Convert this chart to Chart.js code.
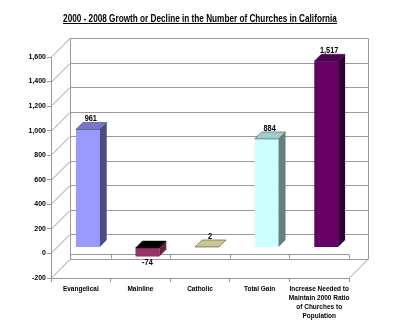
<!DOCTYPE html>
<html>
<head>
<meta charset="utf-8">
<script src="https://cdn.jsdelivr.net/npm/chart.js@4.4.1/dist/chart.umd.min.js"></script>
<style>
  html, body { margin: 0; padding: 0; background: #fff; }
  #wrap { width: 400px; height: 331px; }
</style>
</head>
<body>
<div id="wrap"><canvas id="churchChart" width="400" height="331"></canvas></div>
<script>
// Chart data
const titleText = "2000 - 2008 Growth or Decline in the Number of Churches in California";
const categories = [
    "Evangelical",
    "Mainline",
    "Catholic",
    "Total Gain",
    ["Increase Needed to", "Maintain 2000 Ratio", "of Churches to", "Population"]
];
const changes = [961, -74, 2, 884, 1517];
const valueLabels = ["961", "-74", "2", "884", "1,517"];
const yTicks = [-200, 0, 200, 400, 600, 800, 1000, 1200, 1400, 1600];

// colours of the faces (front / top / side)
const frontColors = ['#9999FF', '#993366', '#CCCC99', '#CCFFFF', '#660066'];
const topColors = ['#7676CC', '#000000', '#C8C896', '#A3CCCC', '#520052'];
const sideColors = ['#4D4D80', '#66223F', '#8A8A66', '#668080', '#330033'];

const FONT = "'Liberation Sans', Arial, sans-serif";
const NARROW = 0.82;  // the original text is a narrow face
const WALL = 19;   // depth of the walls
const SHIFT_X = 7, SHIFT_Y = -6;  // bars sit a bit behind the front plane
const DEPTH = 7;   // depth of a bar

function narrowText(ctx, text, x, y) {
    ctx.save();
    ctx.translate(x, y);
    ctx.scale(NARROW, 1);
    ctx.fillText(text, 0, 0);
    ctx.restore();
}

const threeD = {
    id: 'threeD',
    beforeDatasetsDraw(chart) {
        const ctx = chart.ctx, a = chart.chartArea;
        const ys = chart.scales.y;
        ctx.save();
        ctx.strokeStyle = '#999999';
        ctx.lineWidth = 1;
        ctx.beginPath();
        yTicks.forEach(v => {
            const py = Math.round(ys.getPixelForValue(v)) + 0.5;
            ctx.moveTo(a.left, py);
            ctx.lineTo(a.left + WALL, py - WALL);
            ctx.lineTo(a.right + WALL, py - WALL);
        });
        const top = Math.round(ys.getPixelForValue(1600)) + 0.5;
        const bot = Math.round(ys.getPixelForValue(-200)) + 0.5;
        ctx.moveTo(a.left + WALL + 0.5, top - WALL);
        ctx.lineTo(a.left + WALL + 0.5, bot - WALL);
        ctx.moveTo(a.right + WALL + 0.5, top - WALL);
        ctx.lineTo(a.right + WALL + 0.5, bot - WALL);
        ctx.moveTo(a.right, bot);
        ctx.lineTo(a.right + WALL, bot - WALL);
        // category axis at zero
        const z = Math.round(ys.getPixelForValue(0)) + 1.5;
        ctx.moveTo(a.left + WALL, z);
        ctx.lineTo(a.right, z);
        for (let i = 1; i <= categories.length; i++) {
            const px = Math.round(a.left + i * (a.right - a.left) / categories.length) + 0.5;
            ctx.moveTo(px, z);
            ctx.lineTo(px, z + 4);
        }
        ctx.stroke();
        ctx.restore();

        ctx.save();
        ctx.translate(SHIFT_X, SHIFT_Y);
    },
    afterDatasetsDraw(chart) {
        const ctx = chart.ctx;
        const meta = chart.getDatasetMeta(0);
        meta.data.forEach((bar, i) => {
            const p = bar.getProps(['x', 'y', 'base', 'width'], true);
            const l = p.x - p.width / 2, r = p.x + p.width / 2;
            const t = Math.min(p.y, p.base), b = Math.max(p.y, p.base);
            // side face
            ctx.fillStyle = sideColors[i];
            ctx.beginPath();
            ctx.moveTo(r, t);
            ctx.lineTo(r + DEPTH, t - DEPTH);
            ctx.lineTo(r + DEPTH, b - DEPTH);
            ctx.lineTo(r, b);
            ctx.closePath();
            ctx.fill();
            // top face
            ctx.fillStyle = topColors[i];
            ctx.strokeStyle = 'rgba(0,0,0,0.55)';
            ctx.lineWidth = 0.7;
            ctx.beginPath();
            ctx.moveTo(l, t);
            ctx.lineTo(r, t);
            ctx.lineTo(r + DEPTH, t - DEPTH);
            ctx.lineTo(l + DEPTH, t - DEPTH);
            ctx.closePath();
            ctx.fill();
            ctx.stroke();

            // value label
            ctx.fillStyle = '#000';
            ctx.font = 'bold 9px ' + FONT;
            ctx.textAlign = 'center';
            if (changes[i] >= 0) {
                ctx.textBaseline = 'alphabetic';
                narrowText(ctx, valueLabels[i], p.x + 3, t - 8);
            } else {
                ctx.textBaseline = 'top';
                narrowText(ctx, valueLabels[i], p.x, b + 1);
            }
        });
        ctx.restore();
    },
    afterDraw(chart) {
        const ctx = chart.ctx;
        ctx.save();
        ctx.font = 'bold 10px ' + FONT;
        ctx.fillStyle = '#000';
        ctx.textAlign = 'center';
        ctx.textBaseline = 'alphabetic';
        const cx = 200, by = 22;
        narrowText(ctx, titleText, cx, by);
        const w = ctx.measureText(titleText).width * NARROW;
        ctx.fillRect(cx - w / 2, by + 1, w, 1);
        ctx.restore();
    }
};

const ctx = document.getElementById('churchChart').getContext('2d');
const churchChart = new Chart(ctx, {
    type: 'bar',
    data: {
        labels: categories,
        datasets: [{
            data: changes,
            backgroundColor: frontColors,
            borderWidth: 0,
            barPercentage: 0.4,
            categoryPercentage: 1
        }]
    },
    options: {
        responsive: false,
        animation: false,
        events: [],
        layout: { padding: { top: 57, right: 51, left: 0, bottom: 0 } },
        plugins: {
            legend: { display: false },
            tooltip: { enabled: false },
            title: { display: false }
        },
        scales: {
            x: {
                offset: true,
                grid: { offset: true, drawOnChartArea: false, tickLength: 4, color: '#999999' },
                border: { color: '#999999' },
                ticks: {
                    color: '#000',
                    font: { family: FONT, size: 6.5, weight: 'bold', lineHeight: 1.38 },
                    padding: 3,
                    maxRotation: 0,
                    autoSkip: false
                },
                afterFit(scale) { scale.height = 53; }
            },
            y: {
                min: -200,
                max: 1600,
                grid: { drawOnChartArea: false, tickLength: 4, color: '#999999' },
                border: { color: '#999999' },
                ticks: {
                    stepSize: 200,
                    color: '#000',
                    font: { family: FONT, size: 7, weight: 'bold' },
                    padding: 1,
                    callback: v => v.toLocaleString('en-US')
                },
                afterFit(scale) { scale.width = 51; }
            }
        }
    },
    plugins: [threeD]
});
</script>
</body>
</html>
